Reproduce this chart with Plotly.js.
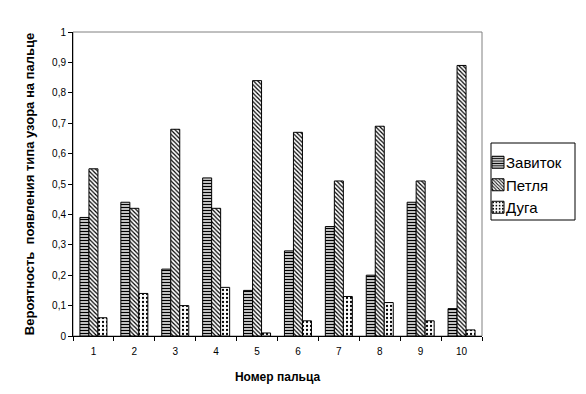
<!DOCTYPE html>
<html><head><meta charset="utf-8">
<script src="https://cdn.plot.ly/plotly-3.0.1.min.js"></script>
<style>body{margin:0;background:#fff}#c{width:586px;height:394px}</style>
</head><body><div id="c"></div>
<script>
var categories = ['1','2','3','4','5','6','7','8','9','10'];
var zavitok = [0.39,0.44,0.22,0.52,0.15,0.28,0.36,0.20,0.44,0.09];
var petlya  = [0.55,0.42,0.68,0.42,0.84,0.67,0.51,0.69,0.51,0.89];
var duga    = [0.06,0.14,0.10,0.16,0.01,0.05,0.13,0.11,0.05,0.02];
var yTicks = [0,0.1,0.2,0.3,0.4,0.5,0.6,0.7,0.8,0.9,1];

function tr(name, y, shape, size, sol){
  return {type:'bar', name:name, x:categories, y:y,
    marker:{color:'#fff', line:{color:'#000', width:1},
      pattern:{shape:shape, fgcolor:'#000', bgcolor:'#fff', size:size, solidity:sol, fillmode:'replace'}}};
}
var data = [
  tr('Завиток', zavitok, '-', 3, 0.5),
  tr('Петля', petlya, '\\', 3, 0.4),
  tr('Дуга', duga, '.', 4, 0.25)
];
var font = {family:'Liberation Sans, Arial, sans-serif', color:'#000'};
// plot area: x 73..482, y 32..336
var L=73, R=482, T=32, B=336;
function px(x){return (x-L)/(R-L);} function py(y){return (B-y)/(B-T);}
var layout = {
  width:586, height:394, separators:', ',
  margin:{l:L, r:586-R, t:T, b:394-B},
  paper_bgcolor:'#fff', plot_bgcolor:'#fff',
  font:font, barmode:'group', bargap:0.34, bargroupgap:0,
  showlegend:true,
  legend:{x:px(470), y:py(146), xanchor:'left', yanchor:'top', borderwidth:0, bgcolor:'rgba(0,0,0,0)',
    font:{family:font.family, size:15, color:'#000'}, tracegroupgap:0},
  xaxis:{type:'category', showline:true, linecolor:'#000', linewidth:1, ticks:'outside', tickson:'boundaries',
    ticklen:4, tickcolor:'#000', tickfont:{size:10}, showgrid:false, ticklabelstandoff:6,
    title:{text:'Номер пальца', font:{size:12, weight:'bold'}, standoff:16}},
  yaxis:{range:[0,1], tickvals:yTicks, showline:true, linecolor:'#000', linewidth:1, ticks:'outside', ticklen:4,
    tickcolor:'#000', tickfont:{size:10}, showgrid:false, zeroline:false,
    title:{text:'Вероятность  появления типа узора на пальце', font:{size:13, weight:'bold'}, standoff:14}},
  shapes:[
    {type:'rect', xref:'paper', yref:'paper', x0:0, x1:1, y0:0, y1:1, line:{color:'#808080', width:1}, layer:'below'},
    {type:'rect', xref:'paper', yref:'paper', x0:px(491), x1:px(575), y0:py(220), y1:py(143), line:{color:'#000', width:1}, fillcolor:'rgba(0,0,0,0)'}
  ]
};
Plotly.newPlot('c', data, layout, {displayModeBar:false, staticPlot:true}).then(function(gd){
  gd.querySelectorAll('.legend .traces').forEach(function(g){
    var sym = g.querySelector('.legendsymbols');
    if (sym) {
      var r = sym.getBoundingClientRect();
      sym.setAttribute('transform', 'translate(' + (492 - r.left) + ',0)');
    }
    var t = g.querySelector('.legendtext');
    if (t) {
      var tr2 = t.getBoundingClientRect();
      var cur = parseFloat(t.getAttribute('x')) || 0;
      t.setAttribute('x', cur + (506 - tr2.left));
    }
  });
});
</script></body></html>
